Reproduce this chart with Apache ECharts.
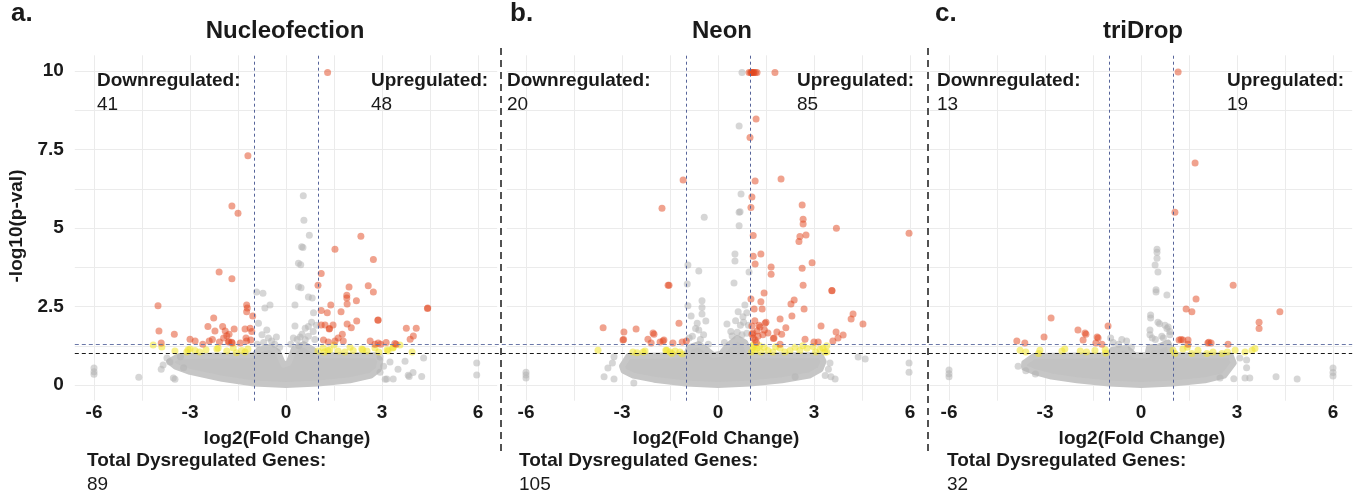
<!DOCTYPE html>
<html><head><meta charset="utf-8">
<script src="https://cdn.jsdelivr.net/npm/echarts@6/dist/echarts.min.js"></script>
<style>html,body{margin:0;padding:0;background:#fff}#c{width:1365px;height:496px}</style>
</head><body><div id="c"></div>
<script>
// ---------- DATA ----------
const panelTitles = ['Nucleofection', 'Neon', 'triDrop'];
const panelLetters = ['a.', 'b.', 'c.'];
const downCounts = [41, 20, 13];
const upCounts = [48, 85, 19];
const totalCounts = [89, 105, 32];
const xTickValues = [-6, -3, 0, 3, 6];
const xTickLabels = ['-6', '-3', '0', '3', '6'];
const yTickValues = [0, 2.5, 5, 7.5, 10];
const yTickLabels = ['0', '2.5', '5', '7.5', '10'];
const fcThresholds = [-1, 1];
const pvalThresholds = [1.3, 1.0]; // -log10(0.05), -log10(0.1)

// dense non-significant cloud outlines (log2FC, -log10 p)
const blobA = [[-3.65,0.75],[-3.35,0.92],[-1.0,0.95],[-0.85,1.12],[-0.5,1.22],[-0.25,1.05],[-0.08,0.65],[0.08,0.7],[0.25,1.15],[0.55,1.3],[0.85,1.12],[1.0,0.95],[2.8,0.95],[2.95,0.8],[2.9,0.5],[2.65,0.3],[2.0,0.15],[1.0,0.05],[0,0.0],[-1.0,0.05],[-2.0,0.2],[-3.0,0.42],[-3.45,0.58]];
const blobB = [[-3.0,0.6],[-2.8,0.92],[-1.0,0.95],[-0.9,1.2],[-0.6,1.3],[-0.35,1.12],[-0.15,0.95],[0.1,1.0],[0.3,1.25],[0.6,1.5],[0.85,1.35],[1.0,0.95],[3.2,0.95],[3.3,0.75],[3.2,0.5],[2.85,0.3],[2.0,0.15],[1.0,0.05],[0,0.0],[-1.0,0.05],[-2.0,0.17],[-2.65,0.3],[-2.95,0.45]];
const blobC = [[-3.65,0.7],[-3.35,0.92],[-1.0,0.95],[-0.9,1.12],[-0.45,1.18],[-0.2,0.95],[0.2,0.95],[0.25,1.2],[0.55,1.22],[0.85,1.35],[1.0,0.95],[2.8,0.95],[2.9,0.7],[2.6,0.3],[2.0,0.15],[1.0,0.05],[0,0.0],[-1.0,0.05],[-2.0,0.15],[-2.8,0.27],[-3.35,0.42],[-3.65,0.55]];

// scattered non-significant genes
const grayA = [[0.54,6.03],[0.56,5.25],[0.73,4.77],[0.49,4.4],[0.53,4.38],[0.39,3.88],[0.46,3.83],[0.39,3.13],[0.47,3.1],[0.7,2.8],[0.82,2.77],[0.28,2.55],[0.86,2.3],[-0.92,2.96],[-0.72,2.92],[-0.66,2.45],[-0.5,2.55],[-0.86,1.97],[-0.6,1.75],[-0.3,1.53],[0.28,1.88],[0.6,1.81],[0.7,1.86],[0.8,2.0],[0.23,1.5],[0.44,1.53],[0.6,1.44],[-0.75,1.6],[-0.45,1.4],[0.85,1.7],[0.95,1.9],
  [-0.7,1.35],[-0.55,1.5],[-0.35,1.3],[-0.2,1.2],[-0.9,1.3],[0.35,1.45],[0.5,1.62],[0.7,1.55],[0.9,1.45],[0.15,1.3],[0.4,1.25],
  [-6.0,0.54],[-6.0,0.42],[-6.0,0.34],[-4.6,0.25],[-3.84,0.64],[-3.63,0.73],[-3.52,0.22],[-3.72,0.86],[-3.47,0.18],[5.96,0.7],[5.96,0.32],[4.3,0.86],[4.24,0.27],[3.97,0.4],[3.85,0.27],[3.72,0.76],[3.35,0.19],[3.15,0.19],[2.94,0.41],[3.25,0.73],[2.94,0.89],[3.05,0.6],[3.1,0.18],[3.82,0.31],[-3.9,0.5],[-3.3,0.9],[-3.2,0.55],[3.5,0.5]];
const grayB = [[0.75,9.95],[0.66,8.25],[0.72,6.08],[0.66,5.5],[0.69,5.52],[-0.43,5.34],[0.66,5.07],[0.53,4.17],[0.53,3.95],[-0.94,3.82],[-0.6,3.63],[0.97,3.6],[0.5,3.25],[-0.96,3.22],[-0.94,2.52],[-0.84,2.2],[-0.5,2.68],[-0.5,2.47],[-0.5,2.26],[-0.38,2.04],[-0.65,1.97],[-0.6,1.75],[-0.9,1.5],[-0.45,1.6],[0.84,2.55],[0.63,2.33],[0.78,2.17],[0.8,2.0],[0.28,1.94],[0.44,1.56],[0.6,1.68],[0.9,2.3],[0.95,1.9],
  [-0.8,1.55],[-0.55,1.45],[-0.7,1.8],[-0.3,1.3],[0.4,1.7],[0.7,1.9],[0.55,2.05],[0.9,1.65],[0.2,1.35],[0.75,1.6],
  [-6.0,0.41],[-6.0,0.32],[-6.0,0.22],[-3.56,0.26],[-3.25,0.19],[-3.44,0.54],[-3.25,0.9],[-2.63,0.06],[-3.3,0.7],[5.97,0.7],[5.97,0.41],[4.38,0.89],[4.6,0.83],[3.5,0.7],[3.53,0.26],[3.66,0.19],[2.41,0.26],[3.45,0.5],[3.35,0.3]];
const grayC = [[0.5,4.32],[0.5,4.23],[0.5,4.04],[0.44,3.82],[0.53,3.6],[0.47,3.03],[0.47,2.96],[0.81,2.87],[0.3,2.23],[0.3,2.13],[0.53,2.0],[0.58,1.95],[0.81,1.8],[0.85,1.85],[0.28,1.75],[0.28,1.6],[0.9,1.6],[0.7,1.5],[-0.87,1.35],[-0.6,1.45],[-0.45,1.4],[-0.95,1.5],
  [0.35,1.5],[0.65,1.55],[0.9,1.7],[0.75,1.9],[0.45,1.45],[-0.7,1.3],[-0.3,1.2],
  [-6.0,0.48],[-6.0,0.26],[-6.0,0.36],[-3.84,0.6],[-3.6,0.45],[6.0,0.54],[6.0,0.29],[6.0,0.4],[4.22,0.26],[4.88,0.19],[3.25,0.22],[3.4,0.22],[3.09,0.86],[3.3,0.8],[3.3,0.55],[2.47,0.22],[2.9,0.2],[-3.3,0.35]];

// 0.05 < p < 0.1 with |log2FC| > 1
const yellowA = [[-4.15,1.27],[-3.88,1.21],[-3.47,1.08],[-3.1,1.05],[-3.0,1.15],[-2.84,1.1],[-3.06,1.12],[-2.16,1.15],[-2.12,1.18],[-1.85,1.08],[-1.65,1.18],[-1.38,1.1],[-1.28,1.05],[-1.19,1.15],[-2.5,1.12],[-2.7,1.05],[-1.55,1.03],
  [1.0,1.08],[1.16,1.18],[1.31,1.1],[1.37,1.12],[1.5,1.27],[1.63,1.08],[1.84,1.05],[2.1,1.1],[2.37,1.15],[2.4,1.12],[2.53,1.08],[2.78,1.18],[3.16,1.12],[3.19,1.08],[3.34,1.18],[3.35,1.2],[3.56,1.27],[3.94,1.05],[1.2,1.05],[2.0,1.2],[2.9,1.05]];
const yellowB = [[-3.75,1.11],[-2.66,1.05],[-2.53,1.03],[-2.34,1.05],[-2.28,1.08],[-1.63,1.11],[-1.6,1.11],[-1.5,1.05],[-1.44,1.0],[-1.34,1.08],[-1.19,1.05],[-1.12,0.99],
  [1.1,1.27],[1.1,1.21],[1.15,1.1],[1.22,1.17],[1.34,1.05],[1.44,1.2],[1.56,1.1],[1.72,1.05],[1.94,1.17],[2.09,1.05],[2.25,1.1],[2.41,1.2],[2.56,1.1],[2.78,1.17],[2.97,1.23],[3.19,1.14],[3.28,1.18],[3.34,1.05],[3.4,1.25],[3.4,1.05],[1.05,1.05],[1.3,1.25],[1.8,1.22],[2.65,1.25],[3.05,1.05]];
const yellowC = [[-3.78,1.11],[-3.6,1.05],[-3.16,1.11],[-3.2,1.0],[-2.47,1.08],[-2.38,1.15],[-1.9,1.08],[-1.7,1.05],[-1.44,1.1],[-1.12,1.12],[-1.1,1.02],
  [1.0,1.11],[1.06,1.0],[1.31,1.15],[1.59,1.0],[1.78,1.11],[2.06,1.0],[2.25,1.05],[2.53,1.0],[2.94,1.11],[3.25,1.05],[3.47,1.11],[3.56,1.16],[1.45,1.2],[2.7,1.05]];

// dysregulated genes (p < 0.05, |log2FC| > 1)
const redA = [[1.3,9.95],[-1.19,7.3],[-1.69,5.7],[-1.5,5.47],[2.34,4.74],[1.53,4.32],[2.73,4.0],[-2.09,3.6],[-1.69,3.38],[1.1,3.55],[1.0,3.18],[1.97,3.12],[2.57,3.16],[2.73,2.96],[1.9,2.86],[1.9,2.77],[2.2,2.68],[1.91,2.58],[1.4,2.55],[1.1,2.37],[1.29,2.3],[1.72,2.33],[-4.0,2.52],[-1.23,2.55],[-1.21,2.45],[-1.23,2.33],[-1.04,2.2],[4.43,2.45],[2.88,2.07],[2.21,2.04],[-2.44,1.86],[-2.26,2.13],[-1.98,1.86],[-2.22,1.72],[-1.9,1.72],[-1.78,1.62],[-1.62,1.78],[-1.85,1.57],[-1.28,1.78],[-1.12,1.81],[-1.07,1.7],[-3.97,1.72],[-3.49,1.62],[1.1,1.91],[1.22,1.91],[1.35,1.78],[1.47,1.91],[1.91,1.94],[2.04,1.82],[1.76,1.62],[1.63,1.5],[1.53,1.4],[1.17,1.43],[1.32,1.37],[1.79,1.4],[3.76,1.81],[4.07,1.81],[3.98,1.56],[3.88,1.46],[2.63,1.4],[2.78,1.3],[2.96,1.3],[3.13,1.35],[3.44,1.3],[-3.0,1.46],[-2.84,1.4],[-2.4,1.4],[-2.6,1.3],[-2.08,1.37],[-1.8,1.37],[-1.68,1.34],[-1.43,1.34],[-1.23,1.4],[-1.1,1.43],[-3.9,1.34],[-1.78,1.38],[-1.7,1.36],[1.36,1.8],[2.87,2.06],[4.42,2.44],[2.88,1.34],[3.4,1.32],[-1.25,1.5],[-2.3,1.45],[-1.95,1.5]];
const redB = [[0.97,9.95],[1.02,9.95],[1.05,9.95],[1.07,9.95],[1.1,9.95],[1.12,9.95],[1.17,9.95],[1.22,9.95],[1.78,9.95],[1.19,8.47],[1.0,7.88],[-1.09,6.53],[1.16,6.5],[1.97,6.56],[1.06,5.99],[2.63,5.73],[-1.75,5.63],[1.03,5.65],[2.66,5.28],[2.66,5.13],[3.7,4.99],[5.97,4.83],[1.1,4.76],[2.56,4.73],[2.75,4.78],[2.53,4.57],[1.1,4.1],[1.34,4.17],[1.16,3.85],[1.66,3.76],[1.66,3.53],[2.63,3.72],[2.94,3.89],[-1.56,3.18],[-1.53,3.18],[2.66,3.18],[3.56,3.0],[3.56,3.01],[1.44,2.93],[1.03,2.74],[1.34,2.65],[2.28,2.58],[2.38,2.71],[1.13,2.42],[1.38,2.42],[2.69,2.42],[4.22,2.26],[4.16,2.1],[4.53,1.94],[2.31,2.2],[1.94,2.1],[1.47,1.97],[1.5,2.0],[1.31,1.85],[1.06,1.88],[1.22,1.72],[1.09,1.66],[1.56,1.66],[1.84,1.69],[1.99,1.62],[2.12,1.82],[1.75,1.5],[1.73,1.48],[1.1,1.5],[3.22,1.88],[3.69,1.69],[3.91,1.59],[3.75,1.5],[3.59,1.4],[2.72,1.46],[3.0,1.37],[3.13,1.37],[1.94,1.3],[1.16,1.43],[1.4,1.6],[1.25,1.55],[1.06,1.62],[1.2,1.35],[1.28,1.9],[1.45,1.75],[1.15,2.05],
  [-1.22,1.97],[-3.59,1.82],[-2.94,1.69],[-2.56,1.78],[-2.97,1.43],[-2.09,1.34],[-2.0,1.62],[-2.19,1.46],[-1.81,1.37],[-1.69,1.43],[-1.41,1.34],[-1.12,1.37],[-0.99,1.4],[-2.03,1.66],[-1.72,1.4],[-2.95,1.45]];
const redC = [[-2.81,2.13],[-1.03,1.88],[-1.97,1.75],[-1.75,1.66],[-1.72,1.62],[-1.81,1.43],[-1.34,1.5],[-1.41,1.34],[-1.22,1.3],[-3.03,1.53],[-3.88,1.4],[-3.63,1.34],[-1.37,1.53],
  [1.16,9.97],[1.69,7.07],[1.06,5.5],[2.88,3.18],[1.72,2.74],[1.41,2.42],[1.59,2.33],[4.34,2.33],[3.69,2.0],[3.69,1.8],[1.19,1.43],[1.31,1.43],[1.47,1.43],[1.47,1.3],[2.09,1.34],[2.19,1.34],[2.72,1.3],[2.12,1.36],[1.25,1.45]];

const blobs = [blobA, blobB, blobC];
const grays = [grayA, grayB, grayC];
const yellows = [yellowA, yellowB, yellowC];
const reds = [redA, redB, redC];

// ---------- LAYOUT ----------
const FONT = '"Liberation Sans", Arial, Helvetica, sans-serif';
const TXT = '#1a1a1a';
const zeroX = [286, 718, 1141];
const unitX = 32;
const halfW = 6.6 * unitX;
const gridTop = 55.3, gridH = 345.4;
const gridLefts = zeroX.map(z => z - halfW);
const titleX = [285, 722, 1143];
const letterX = [11, 510, 935];
const downX = [97, 507, 937];
const upX = [371, 797, 1227];
const totalX = [87, 519, 947];
const axisNameX = [287, 716, 1142];

const T = 'rgba(0,0,0,0)', G = '#ebebeb';
const gridColors = [T, T, G, T, T];

function fmt(vals, labels) {
  return v => { const k = vals.findIndex(t => Math.abs(t - v) < 1e-6); return k >= 0 ? labels[k] : ''; };
}

const grids = [], xAxes = [], yAxes = [], series = [], graphics = [];
function txt(x, y, text, font, align) {
  graphics.push({ type: 'text', x: x, y: y, z: 100, style: { text: text, font: font, fill: TXT, align: align || 'left', verticalAlign: 'middle' } });
}
for (let i = 0; i < 3; i++) {
  grids.push({ left: gridLefts[i], top: gridTop, width: 2 * halfW, height: gridH });
  xAxes.push({ gridIndex: i, type: 'value', min: -6.6, max: 6.6, interval: 0.3,
    axisLine: { show: false }, axisTick: { show: false },
    axisLabel: { margin: 3, formatter: fmt(xTickValues, xTickLabels), color: TXT, fontSize: 19, fontWeight: 'bold', fontFamily: FONT },
    splitLine: { show: true, lineStyle: { color: gridColors, width: 1 } } });
  yAxes.push({ gridIndex: i, type: 'value', min: -0.5, max: 10.5, interval: 0.25,
    axisLine: { show: false }, axisTick: { show: false },
    axisLabel: { show: i === 0, margin: 11, formatter: fmt(yTickValues, yTickLabels), color: TXT, fontSize: 19, fontWeight: 'bold', fontFamily: FONT },
    splitLine: { show: true, lineStyle: { color: gridColors, width: 1 } } });
  const pts = blobs[i];
  series.push({ type: 'custom', xAxisIndex: i, yAxisIndex: i, data: pts, encode: { x: 0, y: 1 }, silent: true, z: 1,
    renderItem: (params, api) => {
      if (params.dataIndex !== 0) return null;
      return { type: 'polygon', shape: { points: pts.map(p => api.coord(p)) },
        style: { fill: '#c2c2c2', stroke: '#c6c6c6', lineWidth: 6, lineJoin: 'round' } };
    } });
  series.push({ type: 'scatter', xAxisIndex: i, yAxisIndex: i, data: grays[i], symbolSize: 7, silent: true, z: 2,
    itemStyle: { color: '#b4b4b4', opacity: 0.55 } });
  series.push({ type: 'scatter', xAxisIndex: i, yAxisIndex: i, data: yellows[i], symbolSize: 7, silent: true, z: 3,
    itemStyle: { color: '#f0e42c', opacity: 0.55 } });
  series.push({ type: 'scatter', xAxisIndex: i, yAxisIndex: i, data: reds[i], symbolSize: 7, silent: true, z: 4,
    itemStyle: { color: '#e2461e', opacity: 0.5 },
    markLine: { silent: true, symbol: ['none', 'none'], label: { show: false },
      lineStyle: { color: '#56649a', width: 1, type: [3, 3] },
      data: fcThresholds.map(v => ({ xAxis: v })) } });

  txt(letterX[i], 14, panelLetters[i], 'bold 26px ' + FONT);
  txt(titleX[i], 31, panelTitles[i], 'bold 24px ' + FONT, 'center');
  txt(downX[i], 81, 'Downregulated:', 'bold 19px ' + FONT);
  txt(downX[i], 105, String(downCounts[i]), '19px ' + FONT);
  txt(upX[i], 81, 'Upregulated:', 'bold 19px ' + FONT);
  txt(upX[i], 105, String(upCounts[i]), '19px ' + FONT);
  txt(axisNameX[i], 439, 'log2(Fold Change)', 'bold 19px ' + FONT, 'center');
  txt(totalX[i], 461, 'Total Dysregulated Genes:', 'bold 19px ' + FONT);
  txt(totalX[i], 485, String(totalCounts[i]), '19px ' + FONT);
}
// y axis name
graphics.push({ type: 'text', x: 17, y: 226, rotation: Math.PI / 2, z: 100, style: { text: '-log10(p-val)', font: 'bold 19px ' + FONT, fill: TXT, align: 'center', verticalAlign: 'middle' } });
// panel dividers
[[501, 48, 455], [928, 48, 452]].forEach(d => {
  graphics.push({ type: 'line', z: 100, shape: { x1: d[0], y1: d[1], x2: d[0], y2: d[2] }, style: { stroke: '#1a1a1a', lineWidth: 1.5, lineDash: [7, 5] } });
});

// overall grid for the continuous p-value threshold lines
grids.push({ left: gridLefts[0], top: gridTop, width: gridLefts[2] + 2 * halfW - gridLefts[0], height: gridH });
xAxes.push({ gridIndex: 3, type: 'value', min: 0, max: 1, show: false });
yAxes.push({ gridIndex: 3, type: 'value', min: -0.5, max: 10.5, show: false });
series.push({ type: 'scatter', xAxisIndex: 3, yAxisIndex: 3, data: [], silent: true, z: 5,
  markLine: { silent: true, symbol: ['none', 'none'], label: { show: false },
    data: [
      { yAxis: pvalThresholds[0], lineStyle: { color: '#6b78a8', width: 1, type: [4, 3] } },
      { yAxis: pvalThresholds[1], lineStyle: { color: '#1a1a1a', width: 1, type: [4, 3] } }
    ] } });

const chart = echarts.init(document.getElementById('c'), null, { renderer: 'canvas' });
chart.setOption({ animation: false, backgroundColor: '#fff', grid: grids, xAxis: xAxes, yAxis: yAxes, series: series, graphic: graphics });
</script></body></html>
